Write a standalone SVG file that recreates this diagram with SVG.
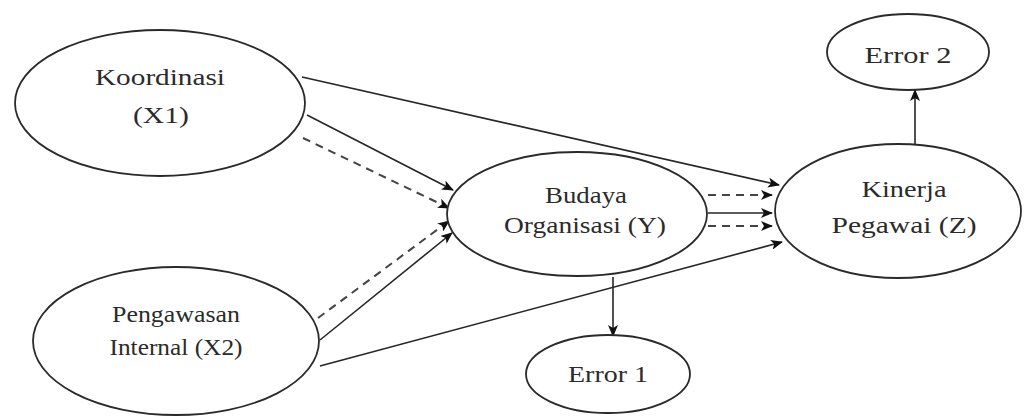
<svg xmlns="http://www.w3.org/2000/svg" width="1025" height="416" viewBox="0 0 1025 416">
  <style>
    .node ellipse { fill: #ffffff; stroke: #2a2a2a; stroke-width: 1.8; }
    .node text { font-family: "Liberation Serif", "Times New Roman", serif; font-size: 23px; fill: #2b2b2b; text-anchor: middle; }
    .edge { fill: none; stroke: #262626; stroke-width: 1.6; marker-end: url(#arrow); }
    .dash { stroke-dasharray: 8 6; stroke-width: 2; stroke: #444; }
  </style>
  <defs>
    <marker id="arrow" markerUnits="userSpaceOnUse" markerWidth="12" markerHeight="10" refX="11" refY="5" orient="auto">
      <path d="M0,0 L12,5 L0,10 L3,5 z" fill="#111"/>
    </marker>
  </defs>
  <rect width="1025" height="416" fill="#ffffff"/>

  <!-- connectors -->
  <g id="connectors">
    <line class="edge" x1="302" y1="77" x2="779" y2="185"/>
    <line class="edge" x1="307" y1="115" x2="453" y2="190"/>
    <line class="edge dash" x1="303" y1="138" x2="449" y2="208"/>
    <line class="edge dash" x1="318" y1="318" x2="449" y2="221"/>
    <line class="edge" x1="320" y1="340" x2="452" y2="233"/>
    <line class="edge" x1="320" y1="366" x2="782" y2="242"/>
    <line class="edge dash" x1="708" y1="195" x2="772" y2="195"/>
    <line class="edge" x1="708" y1="213" x2="772" y2="213"/>
    <line class="edge dash" x1="708" y1="226" x2="772" y2="226"/>
    <line class="edge" x1="613" y1="277" x2="613" y2="336"/>
    <line class="edge" x1="915" y1="145" x2="915" y2="90"/>
  </g>

  <g id="koordinasi" class="node">
    <ellipse cx="160" cy="103" rx="145" ry="73"/>
    <text x="160" y="85" textLength="130" lengthAdjust="spacingAndGlyphs">Koordinasi</text>
    <text x="161" y="123" textLength="56" lengthAdjust="spacingAndGlyphs">(X1)</text>
  </g>

  <g id="pengawasan" class="node">
    <ellipse cx="176" cy="341" rx="143" ry="74"/>
    <text x="176" y="322" textLength="128" lengthAdjust="spacingAndGlyphs">Pengawasan</text>
    <text x="176" y="355" textLength="133" lengthAdjust="spacingAndGlyphs">Internal (X2)</text>
  </g>

  <g id="budaya" class="node">
    <ellipse cx="577" cy="214" rx="130" ry="62"/>
    <text x="586" y="203" textLength="82" lengthAdjust="spacingAndGlyphs">Budaya</text>
    <text x="585" y="233" textLength="162" lengthAdjust="spacingAndGlyphs">Organisasi (Y)</text>
  </g>

  <g id="kinerja" class="node">
    <ellipse cx="898" cy="211" rx="123" ry="67"/>
    <text x="904" y="197" textLength="85" lengthAdjust="spacingAndGlyphs">Kinerja</text>
    <text x="904" y="233" textLength="145" lengthAdjust="spacingAndGlyphs">Pegawai (Z)</text>
  </g>

  <g id="error2" class="node">
    <ellipse cx="908" cy="52" rx="81" ry="38"/>
    <text x="908" y="63" textLength="87" lengthAdjust="spacingAndGlyphs">Error 2</text>
  </g>

  <g id="error1" class="node">
    <ellipse cx="608" cy="374" rx="82" ry="39"/>
    <text x="608" y="382" textLength="80" lengthAdjust="spacingAndGlyphs">Error 1</text>
  </g>
</svg>
